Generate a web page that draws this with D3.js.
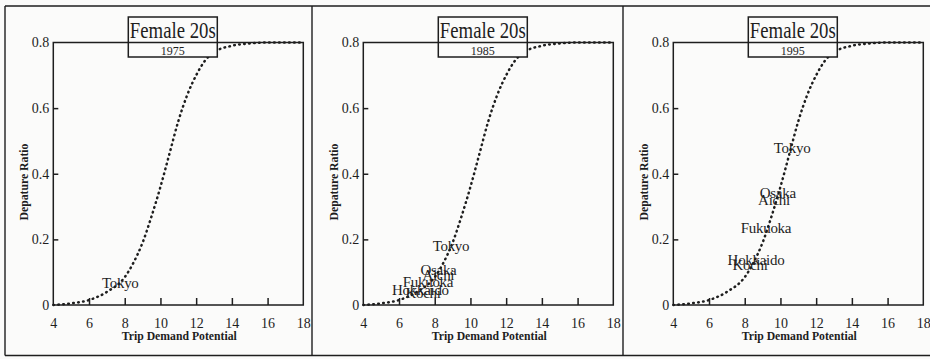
<!DOCTYPE html>
<html>
<head>
<meta charset="utf-8">
<script src="https://cdn.jsdelivr.net/npm/d3@7"></script>
<style>
  html, body { margin: 0; padding: 0; background: #fbfbfa; }
  svg { display: block; }
  text { font-family: "Liberation Serif", "DejaVu Serif", serif; fill: #1e1e1e; }
</style>
</head>
<body>
<svg id="chart" width="930" height="359"></svg>
<script>
// ---- data ----
const years = ["1975", "1985", "1995"];
const chartTitle = "Female 20s";
const xTicks = [4, 6, 8, 10, 12, 14, 16, 18];
const yTicks = [0, 0.2, 0.4, 0.6, 0.8];
const yTickLabels = ["0", "0.2", "0.4", "0.6", "0.8"];
const xTitle = "Trip Demand Potential";
const yTitle = "Depature Ratio";

// fitted curve
const curveTDP   = [4, 5, 6, 7, 8, 8.5, 9, 9.5, 10, 10.5, 11, 11.5, 12, 12.5, 13, 14, 15, 16, 17, 18];
const curveRatio = [0, 0.005, 0.015, 0.04, 0.085, 0.13, 0.19, 0.27, 0.36, 0.46, 0.56, 0.64, 0.70, 0.745, 0.77, 0.79, 0.797, 0.8, 0.8, 0.8];

// prefecture points per year
const names1975 = ["Tokyo"];
const tdp1975   = [7.75];
const ratio1975 = [0.067];

const names1985 = ["Tokyo", "Osaka", "Aichi", "Fukuoka", "Hokkaido", "Kochi"];
const tdp1985   = [8.91, 8.21, 8.2, 7.62, 7.2, 7.35];
const ratio1985 = [0.18, 0.107, 0.091, 0.07, 0.046, 0.037];

const names1995 = ["Tokyo", "Osaka", "Aichi", "Fukuoka", "Hokkaido", "Kochi"];
const tdp1995   = [10.65, 9.85, 9.64, 9.19, 8.63, 8.3];
const ratio1995 = [0.48, 0.34, 0.32, 0.235, 0.137, 0.122];

const panelNames = [names1975, names1985, names1995];
const panelTdp = [tdp1975, tdp1985, tdp1995];
const panelRatio = [ratio1975, ratio1985, ratio1995];

// ---- drawing ----
const svg = d3.select("#chart");
const ink = "#1e1e1e";

// outer frames
const frame = svg.append("g").attr("stroke", ink).attr("stroke-width", 1.4).attr("fill", "none");
frame.append("line").attr("x1", 5).attr("x2", 930).attr("y1", 6).attr("y2", 6);
frame.append("line").attr("x1", 5).attr("x2", 930).attr("y1", 355.5).attr("y2", 355.5);
[5, 312, 623].forEach(x => frame.append("line").attr("x1", x).attr("x2", x).attr("y1", 6).attr("y2", 355.5));

const plotW = 250, plotTop = 42.5, plotBottom = 305;
const x = d3.scaleLinear().domain([4, 18]);
const y = d3.scaleLinear().domain([0, 0.8]).range([plotBottom, plotTop]);

const curveData = curveTDP.map((t, i) => [t, curveRatio[i]]);

years.forEach((yr, p) => {
  const left = 53.3 + p * 310;
  x.range([left, left + plotW]);
  const g = svg.append("g");

  // curve (dotted)
  const line = d3.line().x(d => x(d[0])).y(d => y(d[1])).curve(d3.curveMonotoneX);
  g.append("path").datum(curveData)
    .attr("d", line).attr("fill", "none").attr("stroke", ink)
    .attr("stroke-width", 2.5).attr("stroke-linecap", "round")
    .attr("stroke-dasharray", "0.6 4.4");

  // plot box
  g.append("rect").attr("x", left).attr("y", plotTop)
    .attr("width", plotW).attr("height", plotBottom - plotTop)
    .attr("fill", "none").attr("stroke", ink).attr("stroke-width", 1.5);

  // axes (ticks inward)
  const xAxis = d3.axisBottom(x).tickValues(xTicks).tickSize(-7).tickPadding(13).tickFormat(d3.format("d"));
  const xg = g.append("g").attr("transform", `translate(0,${plotBottom})`).call(xAxis);
  xg.select(".domain").remove();
  xg.selectAll(".tick line").attr("stroke", ink).attr("stroke-width", 1.5)
    .filter(d => d === 4 || d === 18).remove();
  xg.selectAll(".tick text").attr("font-size", 14).attr("fill", ink)
    .attr("font-family", "Liberation Serif");

  const yAxis = d3.axisLeft(y).tickValues(yTicks).tickSize(-5).tickPadding(4)
    .tickFormat((d, i) => yTickLabels[i]);
  const yg = g.append("g").attr("transform", `translate(${left},0)`).call(yAxis);
  yg.select(".domain").remove();
  yg.selectAll(".tick line").attr("stroke", ink).attr("stroke-width", 1.5)
    .filter(d => d === 0 || d === 0.8).remove();
  yg.selectAll(".tick text").attr("font-size", 14).attr("fill", ink)
    .attr("font-family", "Liberation Serif");

  // axis titles
  g.append("text").attr("x", left + 126).attr("y", 340)
    .attr("text-anchor", "middle").attr("font-size", 13).attr("font-weight", "bold")
    .attr("textLength", 115).attr("lengthAdjust", "spacingAndGlyphs")
    .text(xTitle);
  g.append("text").attr("transform", `translate(${left - 25},182) rotate(-90)`)
    .attr("text-anchor", "middle").attr("font-size", 12).attr("font-weight", "bold")
    .attr("textLength", 77).attr("lengthAdjust", "spacingAndGlyphs")
    .text(yTitle);

  // point labels
  const names = panelNames[p], tdp = panelTdp[p], ratio = panelRatio[p];
  g.selectAll("text.pt").data(names).enter().append("text").attr("class", "pt")
    .attr("x", (d, i) => x(tdp[i])).attr("y", (d, i) => y(ratio[i]))
    .attr("text-anchor", "middle").attr("dominant-baseline", "central")
    .attr("font-size", 15).attr("letter-spacing", -0.3)
    .text(d => d);

  // title box
  const bx = left + 75, bw = 89;
  g.append("rect").attr("x", bx).attr("y", 17).attr("width", bw).attr("height", 40)
    .attr("fill", "#fbfbfa").attr("stroke", ink).attr("stroke-width", 1.5);
  g.append("line").attr("x1", bx).attr("x2", bx + bw).attr("y1", plotTop).attr("y2", plotTop)
    .attr("stroke", ink).attr("stroke-width", 1.5);
  g.append("text").attr("x", bx + bw / 2).attr("y", 37.5)
    .attr("text-anchor", "middle").attr("font-size", 23)
    .attr("textLength", 86).attr("lengthAdjust", "spacingAndGlyphs")
    .text(chartTitle);
  g.append("text").attr("x", bx + bw / 2).attr("y", 55)
    .attr("text-anchor", "middle").attr("font-size", 13)
    .attr("textLength", 24).attr("lengthAdjust", "spacingAndGlyphs")
    .text(yr);
});
</script>
</body>
</html>
